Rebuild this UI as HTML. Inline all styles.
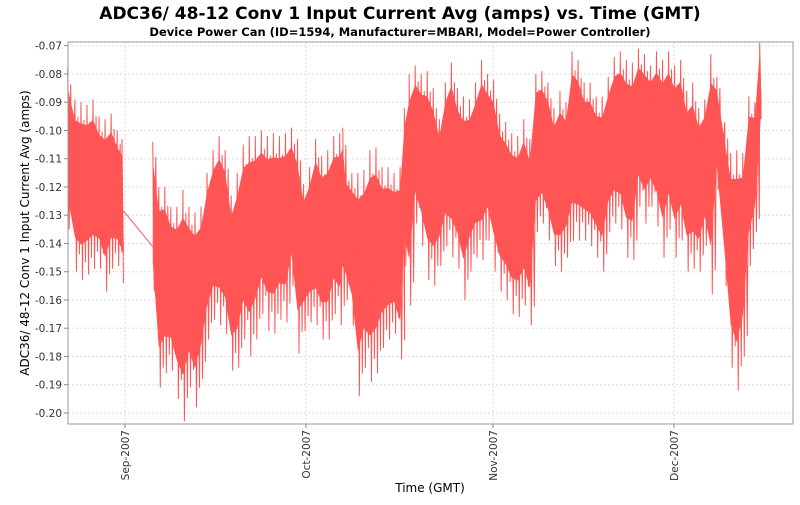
<!DOCTYPE html>
<html><head><meta charset="utf-8"><style>
body{margin:0;background:#fff;}
svg text{font-family:"DejaVu Sans","Liberation Sans",sans-serif;}
</style></head><body>
<svg id="chart" width="800" height="500">
<text x="400" y="19" text-anchor="middle" font-size="17" font-weight="bold">ADC36/ 48-12 Conv 1 Input Current Avg (amps) vs. Time (GMT)</text>
<text x="400" y="36" text-anchor="middle" font-size="11.5" font-weight="bold">Device Power Can (ID=1594, Manufacturer=MBARI, Model=Power Controller)</text>
<rect x="68" y="42" width="725" height="382" fill="#fff" stroke="none"/>
<g id="grid"></g>
<g id="series"></g>
<g id="axes"></g>
<text transform="translate(29,233) rotate(-90)" text-anchor="middle" font-size="12">ADC36/ 48-12 Conv 1 Input Current Avg (amps)</text>
<text x="430" y="492" text-anchor="middle" font-size="12">Time (GMT)</text>
</svg>
<script>
const days=[-9.5,-8.3,-7.3,-6.3,-5.3,-4.3,-3.3,-2.3,-1.3,-0.5,4.6,5.6,6.6,7.6,8.6,9.6,10.6,11.6,12.6,13.6,14.6,15.6,16.6,17.6,18.6,19.6,20.6,21.6,22.6,23.6,24.6,25.6,26.6,27.6,28.6,29.6,30.6,31.6,32.6,33.6,34.6,35.6,36.1,36.6,37.6,38.6,39.6,40.6,41.6,42.6,43.6,44.6,45.6,46.3,47.1,48.1,49.1,50.1,51.1,52.1,53.1,54.1,55.1,56.1,57.1,58.1,59.1,60.1,61.1,62.1,63.1,64.1,65.1,66.1,67.1,68.1,69.1,70.1,71.1,72.1,73.1,74.1,75.1,76.1,77.1,78.1,79.1,80.1,81.1,82.1,83.1,84.1,85.1,86.1,87.1,88.1,89.1,90.1,91.1,92.1,93.1,94.1,95.1,96.1,97.1,98.1,99.4,100.4,101.4,102.4,103.4,104.4,105.2];
const hiVals=[-0.078,-0.089,-0.090,-0.091,-0.089,-0.095,-0.096,-0.094,-0.100,-0.103,-0.104,-0.120,-0.120,-0.127,-0.127,-0.121,-0.127,-0.129,-0.127,-0.115,-0.107,-0.102,-0.107,-0.123,-0.115,-0.105,-0.102,-0.102,-0.100,-0.102,-0.101,-0.102,-0.101,-0.099,-0.103,-0.119,-0.113,-0.103,-0.109,-0.107,-0.102,-0.101,-0.099,-0.113,-0.115,-0.115,-0.114,-0.107,-0.106,-0.113,-0.113,-0.115,-0.113,-0.092,-0.080,-0.077,-0.080,-0.079,-0.085,-0.096,-0.083,-0.076,-0.085,-0.088,-0.089,-0.083,-0.075,-0.080,-0.082,-0.094,-0.097,-0.101,-0.102,-0.096,-0.103,-0.080,-0.079,-0.083,-0.092,-0.086,-0.090,-0.072,-0.075,-0.083,-0.083,-0.088,-0.088,-0.081,-0.074,-0.072,-0.075,-0.076,-0.071,-0.073,-0.077,-0.072,-0.075,-0.072,-0.077,-0.075,-0.086,-0.083,-0.092,-0.089,-0.073,-0.081,-0.097,-0.108,-0.107,-0.108,-0.088,-0.090,-0.069];
const loVals=[-0.135,-0.150,-0.153,-0.151,-0.149,-0.149,-0.157,-0.149,-0.148,-0.154,-0.157,-0.191,-0.186,-0.185,-0.195,-0.203,-0.191,-0.198,-0.188,-0.174,-0.167,-0.169,-0.172,-0.185,-0.184,-0.174,-0.180,-0.174,-0.165,-0.171,-0.172,-0.167,-0.168,-0.155,-0.179,-0.171,-0.168,-0.169,-0.174,-0.174,-0.165,-0.169,-0.160,-0.160,-0.169,-0.194,-0.184,-0.189,-0.186,-0.177,-0.174,-0.172,-0.181,-0.148,-0.162,-0.133,-0.141,-0.153,-0.155,-0.148,-0.141,-0.145,-0.149,-0.160,-0.150,-0.145,-0.146,-0.139,-0.150,-0.157,-0.160,-0.165,-0.166,-0.162,-0.169,-0.136,-0.133,-0.139,-0.148,-0.150,-0.145,-0.139,-0.139,-0.139,-0.141,-0.145,-0.150,-0.136,-0.133,-0.135,-0.145,-0.146,-0.127,-0.133,-0.127,-0.134,-0.145,-0.135,-0.145,-0.139,-0.150,-0.149,-0.150,-0.141,-0.158,-0.121,-0.155,-0.184,-0.192,-0.180,-0.148,-0.136,-0.096];
const yTicks=[-0.07,-0.08,-0.09,-0.10,-0.11,-0.12,-0.13,-0.14,-0.15,-0.16,-0.17,-0.18,-0.19,-0.20];
const yTickLabels=["-0.07","-0.08","-0.09","-0.10","-0.11","-0.12","-0.13","-0.14","-0.15","-0.16","-0.17","-0.18","-0.19","-0.20"];
const xTicks=[0,30,61,91];
const xTickLabels=["Sep-2007","Oct-2007","Nov-2007","Dec-2007"];

const NS="http://www.w3.org/2000/svg";
const PL=68,PT=42,PR=793,PB=424;
function xs(d){return 125+d*6.033;}
function ys(v){return 45.7+(-0.07-v)*2825;}
function mk(tag,attrs,parent){const e=document.createElementNS(NS,tag);for(const k in attrs)e.setAttribute(k,attrs[k]);parent.appendChild(e);return e;}
const gridG=document.getElementById('grid'),axesG=document.getElementById('axes'),seriesG=document.getElementById('series');
yTicks.forEach((v,i)=>{
  const g=mk('line',{x1:PL,x2:PR,y1:ys(v),y2:ys(v),stroke:'#ddd','stroke-dasharray':'2,2'},gridG);
  
  
  const t=mk('line',{x1:PL-4,x2:PL,y1:ys(v),y2:ys(v),stroke:'#888'},axesG);
  
  
  const tx=mk('text',{x:PL-6,y:ys(v)+4,'text-anchor':'end','font-size':'10.5',fill:'#333'},axesG);
  tx.textContent=yTickLabels[i];
  
  
});
xTicks.forEach((d,i)=>{
  const x=xs(d);
  const g=mk('line',{x1:x,x2:x,y1:PT,y2:PB,stroke:'#ddd','stroke-dasharray':'2,2'},gridG);
  
  
  const t=mk('line',{x1:x,x2:x,y1:PB,y2:PB+4,stroke:'#888'},axesG);
  
  
  const tx=mk('text',{transform:`translate(${x+4},${PB+6}) rotate(-90)`,'text-anchor':'end','font-size':'10.5',fill:'#333'},axesG);
  tx.textContent=xTickLabels[i];
  
  
});
// split into contiguous segments (gap > 2.5 days)
const segs=[];let cur=[0];
for(let i=1;i<days.length;i++){if(days[i]-days[i-1]>2.5){segs.push(cur);cur=[i];}else cur.push(i);}
segs.push(cur);
segs.forEach((seg,si)=>{
  let tp='',bp='';
  seg.forEach((i,k)=>{const h=hiVals[i],l=loVals[i];tp+=(k?'L':'M')+xs(days[i])+','+ys(h+(l-h)*0.12);});
  for(let k=seg.length-1;k>=0;k--){const i=seg[k],h=hiVals[i],l=loVals[i];bp+='L'+(xs(days[i])+(k===seg.length-1?2:0))+','+ys(h+(l-h)*0.8);}
  const core=mk('path',{d:tp+bp+'Z',fill:'#ff5555'},seriesG);
  
  
  let z='';
  seg.forEach((i,k)=>{const x=xs(days[i]),h=hiVals[i],l=loVals[i];
    const last=k===seg.length-1;
    z+=(k?'L':'M')+x+','+ys(h)+'L'+(x+1.5)+','+ys(l);
    if(!last) z+='L'+(x+3)+','+ys(h+(l-h)*0.1)+'L'+(x+4.5)+','+ys(l-(l-h)*0.1);
  });
  const line=mk('path',{d:z,fill:'none',stroke:'#ff5555','stroke-width':'1'},seriesG);
  
  
  if(si<segs.length-1){
    const a=seg[seg.length-1],b=segs[si+1][0];
    const c=mk('line',{x1:xs(days[a])+1.5,y1:ys((hiVals[a]+loVals[a])/2),x2:xs(days[b]),y2:ys(loVals[b]+(hiVals[b]-loVals[b])*0.3),stroke:'#ff5555','stroke-width':'1'},seriesG);
    
    
  }
});
const frame=mk('rect',{x:PL,y:PT,width:PR-PL,height:PB-PT,fill:'none',stroke:'#999'},axesG);


</script>
</body></html>
